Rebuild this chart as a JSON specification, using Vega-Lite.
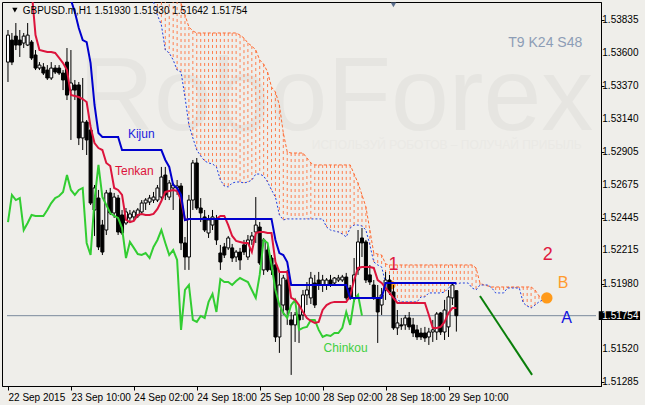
{
"$schema": "https://vega.github.io/schema/vega-lite/v6.json",
"width": 599, "height": 384,
"autosize": {"type": "none"},
"padding": {"left": 2, "top": 2, "right": 44, "bottom": 19},
"background": "#efeeea",
"config": {"view": {"stroke": "black", "strokeWidth": 1}, "font": "Liberation Sans", "axis": {"labelOverlap": false}},
"datasets": {"bars": [
{"i":0,"o":1.53539,"h":1.53765,"l":1.53399,"c":1.53729,"ch":1.52413},
{"i":1,"o":1.53694,"h":1.53744,"l":1.53518,"c":1.53539,"ch":1.52604},
{"i":2,"o":1.53722,"h":1.53814,"l":1.53624,"c":1.53659,"ch":1.52568},
{"i":3,"o":1.53694,"h":1.53765,"l":1.53575,"c":1.53659,"ch":1.52582},
{"i":4,"o":1.53673,"h":1.53744,"l":1.53638,"c":1.53722,"ch":1.52357},
{"i":5,"o":1.53659,"h":1.53814,"l":1.53652,"c":1.53729,"ch":1.52406},
{"i":6,"o":1.53680,"h":1.53694,"l":1.53554,"c":1.53568,"ch":1.52463,"t":1.54046},
{"i":7,"o":1.53589,"h":1.53624,"l":1.53483,"c":1.53497,"ch":1.52456,"t":1.53729},
{"i":8,"o":1.53497,"h":1.53539,"l":1.53483,"c":1.53518,"ch":1.52456,"t":1.53624},
{"i":9,"o":1.53504,"h":1.53532,"l":1.53448,"c":1.53462,"ch":1.52456,"t":1.53617},
{"i":10,"o":1.53483,"h":1.53518,"l":1.53413,"c":1.53427,"ch":1.52498,"t":1.53610},
{"i":11,"o":1.53427,"h":1.53539,"l":1.53413,"c":1.53497,"ch":1.52547,"t":1.53610},
{"i":12,"o":1.53497,"h":1.53518,"l":1.53455,"c":1.53469,"ch":1.52582,"t":1.53603},
{"i":13,"o":1.53497,"h":1.53518,"l":1.53448,"c":1.53462,"ch":1.52596,"t":1.53568},
{"i":14,"o":1.53462,"h":1.53483,"l":1.53342,"c":1.53413,"ch":1.52625,"t":1.53532},
{"i":15,"o":1.53539,"h":1.53638,"l":1.53272,"c":1.53307,"ch":1.52744,"t":1.53483,"k":1.54081},
{"i":16,"o":1.53342,"h":1.53624,"l":1.52991,"c":1.53392,"ch":1.52639,"t":1.53307,"k":1.53976},
{"i":17,"o":1.53378,"h":1.53413,"l":1.53272,"c":1.53342,"ch":1.52604,"t":1.53300,"k":1.53891},
{"i":18,"o":1.53378,"h":1.53399,"l":1.52955,"c":1.53005,"ch":1.52639,"t":1.53293,"k":1.53779},
{"i":19,"o":1.53005,"h":1.53427,"l":1.52920,"c":1.53117,"ch":1.52653,"t":1.53279,"k":1.53694},
{"i":20,"o":1.53117,"h":1.53131,"l":1.52885,"c":1.52991,"ch":1.52266,"t":1.53258,"k":1.53680},
{"i":21,"o":1.53061,"h":1.53096,"l":1.52533,"c":1.52547,"ch":1.52181,"t":1.53082,"k":1.53532},
{"i":22,"o":1.52498,"h":1.52674,"l":1.52315,"c":1.52653,"ch":1.52568,"t":1.52969,"k":1.53237},
{"i":23,"o":1.52582,"h":1.52639,"l":1.52216,"c":1.52238,"ch":1.52815,"t":1.52934,"k":1.53040},
{"i":24,"o":1.52392,"h":1.52428,"l":1.52181,"c":1.52202,"ch":1.52589,"t":1.52920,"k":1.53012},
{"i":25,"o":1.52357,"h":1.52639,"l":1.52322,"c":1.52618,"ch":1.52533,"t":1.52829,"k":1.53012},
{"i":26,"o":1.52618,"h":1.52653,"l":1.52463,"c":1.52477,"ch":1.52477,"t":1.52808,"k":1.53012},
{"i":27,"o":1.52477,"h":1.52618,"l":1.52442,"c":1.52589,"ch":1.52456,"t":1.52653,"k":1.53012},
{"i":28,"o":1.52582,"h":1.52604,"l":1.52322,"c":1.52343,"ch":1.52442,"t":1.52639,"k":1.53012},
{"i":29,"o":1.52463,"h":1.52498,"l":1.52322,"c":1.52336,"ch":1.52371,"t":1.52604,"k":1.52920},
{"i":30,"o":1.52406,"h":1.52512,"l":1.52392,"c":1.52484,"ch":1.52160,"t":1.52428,"k":1.52920},
{"i":31,"o":1.52442,"h":1.52498,"l":1.52413,"c":1.52470,"ch":1.52273,"t":1.52413,"k":1.52920},
{"i":32,"o":1.52449,"h":1.52498,"l":1.52428,"c":1.52484,"ch":1.52231,"t":1.52421,"k":1.52920},
{"i":33,"o":1.52456,"h":1.52512,"l":1.52442,"c":1.52498,"ch":1.52188,"t":1.52463,"k":1.52920},
{"i":34,"o":1.52484,"h":1.52568,"l":1.52463,"c":1.52547,"ch":1.52181,"t":1.52470,"k":1.52920},
{"i":35,"o":1.52547,"h":1.52582,"l":1.52498,"c":1.52568,"ch":1.52195,"t":1.52463,"k":1.52920},
{"i":36,"o":1.52554,"h":1.52604,"l":1.52533,"c":1.52582,"ch":1.52160,"t":1.52463,"k":1.52920},
{"i":37,"o":1.52568,"h":1.52625,"l":1.52547,"c":1.52589,"ch":1.52238,"t":1.52470,"k":1.52920,"a":1.54398,"b":1.53962},
{"i":38,"o":1.52568,"h":1.52674,"l":1.52554,"c":1.52653,"ch":1.52287,"t":1.52505,"k":1.52920,"a":1.54328,"b":1.53870},
{"i":39,"o":1.52589,"h":1.52801,"l":1.52568,"c":1.52730,"ch":1.52357,"t":1.52561,"k":1.52920,"a":1.54257,"b":1.53800},
{"i":40,"o":1.52744,"h":1.52801,"l":1.52568,"c":1.52604,"ch":1.52266,"t":1.52625,"k":1.52850,"a":1.54187,"b":1.53624},
{"i":41,"o":1.52589,"h":1.52709,"l":1.52568,"c":1.52688,"ch":1.52181,"t":1.52632,"k":1.52801,"a":1.54116,"b":1.53603},
{"i":42,"o":1.52653,"h":1.52688,"l":1.52498,"c":1.52674,"ch":1.52216,"t":1.52639,"k":1.52674,"a":1.54060,"b":1.53554},
{"i":43,"o":1.52653,"h":1.52709,"l":1.52604,"c":1.52667,"ch":1.52146,"t":1.52632,"k":1.52653,"a":1.54011,"b":1.53483},
{"i":44,"o":1.52667,"h":1.52688,"l":1.52216,"c":1.52266,"ch":1.51654,"t":1.52568,"k":1.52604,"a":1.53955,"b":1.53469},
{"i":45,"o":1.52266,"h":1.52308,"l":1.52076,"c":1.52167,"ch":1.51935,"t":1.52428,"k":1.52428,"a":1.53870,"b":1.53293},
{"i":46,"o":1.52167,"h":1.52604,"l":1.52076,"c":1.52568,"ch":1.51970,"t":1.52435,"k":1.52435,"a":1.53786,"b":1.53096},
{"i":47,"o":1.52568,"h":1.52850,"l":1.52498,"c":1.52829,"ch":1.51724,"t":1.52435,"k":1.52435,"a":1.53758,"b":1.53005},
{"i":48,"o":1.52829,"h":1.52864,"l":1.52498,"c":1.52512,"ch":1.51710,"t":1.52435,"k":1.52435,"a":1.53744,"b":1.52920},
{"i":49,"o":1.52512,"h":1.52582,"l":1.52413,"c":1.52477,"ch":1.51752,"t":1.52435,"k":1.52435,"a":1.53744,"b":1.52878},
{"i":50,"o":1.52449,"h":1.52498,"l":1.52343,"c":1.52357,"ch":1.51738,"t":1.52435,"k":1.52435,"a":1.53744,"b":1.52843},
{"i":51,"o":1.52336,"h":1.52463,"l":1.52301,"c":1.52428,"ch":1.51851,"t":1.52435,"k":1.52435,"a":1.53744,"b":1.52829},
{"i":52,"o":1.52392,"h":1.52498,"l":1.52357,"c":1.52449,"ch":1.51907,"t":1.52435,"k":1.52435,"a":1.53744,"b":1.52822},
{"i":53,"o":1.52428,"h":1.52463,"l":1.52252,"c":1.52287,"ch":1.51780,"t":1.52435,"k":1.52435,"a":1.53744,"b":1.52801},
{"i":54,"o":1.52195,"h":1.52252,"l":1.52076,"c":1.52132,"ch":1.52012,"t":1.52456,"k":1.52435,"a":1.53744,"b":1.52709},
{"i":55,"o":1.52238,"h":1.52266,"l":1.52160,"c":1.52181,"ch":1.51991,"t":1.52456,"k":1.52435,"a":1.53744,"b":1.52667},
{"i":56,"o":1.52231,"h":1.52315,"l":1.52216,"c":1.52301,"ch":1.51991,"t":1.52392,"k":1.52435,"a":1.53744,"b":1.52660},
{"i":57,"o":1.52231,"h":1.52259,"l":1.52132,"c":1.52160,"ch":1.51970,"t":1.52315,"k":1.52435,"a":1.53744,"b":1.52688},
{"i":58,"o":1.52167,"h":1.52216,"l":1.52132,"c":1.52202,"ch":1.51998,"t":1.52280,"k":1.52435,"a":1.53744,"b":1.52695},
{"i":59,"o":1.52202,"h":1.52231,"l":1.52076,"c":1.52146,"ch":1.52019,"t":1.52273,"k":1.52435,"a":1.53729,"b":1.52695},
{"i":60,"o":1.52252,"h":1.52287,"l":1.52181,"c":1.52202,"ch":1.52005,"t":1.52266,"k":1.52435,"a":1.53708,"b":1.52688},
{"i":61,"o":1.52167,"h":1.52322,"l":1.52146,"c":1.52287,"ch":1.51991,"t":1.52266,"k":1.52435,"a":1.53673,"b":1.52695},
{"i":62,"o":1.52287,"h":1.52343,"l":1.52252,"c":1.52315,"ch":1.51935,"t":1.52202,"k":1.52435,"a":1.53652,"b":1.52709},
{"i":63,"o":1.52343,"h":1.52589,"l":1.52266,"c":1.52392,"ch":1.51879,"t":1.52336,"k":1.52435,"a":1.53624,"b":1.52751},
{"i":64,"o":1.52378,"h":1.52413,"l":1.52111,"c":1.52125,"ch":1.52041,"t":1.52343,"k":1.52435,"a":1.53554,"b":1.52751},
{"i":65,"o":1.52076,"h":1.52301,"l":1.52041,"c":1.52287,"ch":1.52287,"t":1.52343,"k":1.52435,"a":1.53525,"b":1.52737},
{"i":66,"o":1.52216,"h":1.52252,"l":1.52062,"c":1.52076,"ch":1.52266,"t":1.52336,"k":1.52435,"a":1.53469,"b":1.52695},
{"i":67,"o":1.52160,"h":1.52181,"l":1.52041,"c":1.52076,"ch":1.52111,"t":1.52336,"k":1.52435,"a":1.53363,"b":1.52639},
{"i":68,"o":1.52111,"h":1.52160,"l":1.51569,"c":1.51604,"ch":1.51935,"t":1.52132,"k":1.52287,"a":1.53328,"b":1.52589},
{"i":69,"o":1.51604,"h":1.52062,"l":1.51492,"c":1.51970,"ch":1.51829,"t":1.52062,"k":1.52195,"a":1.53237,"b":1.52463},
{"i":70,"o":1.51829,"h":1.52041,"l":1.51759,"c":1.52019,"ch":1.51773,"t":1.52062,"k":1.52181,"a":1.53040,"b":1.52428},
{"i":71,"o":1.52005,"h":1.52076,"l":1.51689,"c":1.51794,"ch":1.51738,"t":1.52062,"k":1.52132,"a":1.52906,"b":1.52435},
{"i":72,"o":1.51724,"h":1.51780,"l":1.51337,"c":1.51689,"ch":1.51829,"t":1.51879,"k":1.51970,"a":1.52899,"b":1.52435},
{"i":73,"o":1.51689,"h":1.51780,"l":1.51569,"c":1.51759,"ch":1.51865,"t":1.51865,"k":1.51970,"a":1.52899,"b":1.52435},
{"i":74,"o":1.51759,"h":1.51829,"l":1.51562,"c":1.51724,"ch":1.51654,"t":1.51829,"k":1.51970,"a":1.52899,"b":1.52435},
{"i":75,"o":1.51759,"h":1.51935,"l":1.51724,"c":1.51900,"ch":1.51668,"t":1.51780,"k":1.51970,"a":1.52899,"b":1.52435},
{"i":76,"o":1.51900,"h":1.51991,"l":1.51829,"c":1.51935,"ch":1.51675,"t":1.51738,"k":1.51970,"a":1.52864,"b":1.52435},
{"i":77,"o":1.51879,"h":1.52062,"l":1.51836,"c":1.52019,"ch":1.51724,"t":1.51717,"k":1.51970,"a":1.52829,"b":1.52435},
{"i":78,"o":1.51984,"h":1.52041,"l":1.51808,"c":1.51829,"ch":1.51724,"t":1.51703,"k":1.51970,"a":1.52815,"b":1.52435},
{"i":79,"o":1.52005,"h":1.52062,"l":1.51935,"c":1.51970,"ch":1.51654,"t":1.51710,"k":1.51970,"a":1.52815,"b":1.52435},
{"i":80,"o":1.51970,"h":1.52041,"l":1.51921,"c":1.52005,"ch":1.51604,"t":1.51794,"k":1.51970,"a":1.52815,"b":1.52435},
{"i":81,"o":1.51970,"h":1.52019,"l":1.51935,"c":1.52005,"ch":1.51618,"t":1.51829,"k":1.51970,"a":1.52815,"b":1.52378},
{"i":82,"o":1.52005,"h":1.52041,"l":1.51956,"c":1.51970,"ch":1.51611,"t":1.51844,"k":1.51970,"a":1.52815,"b":1.52357},
{"i":83,"o":1.51984,"h":1.52026,"l":1.51970,"c":1.52019,"ch":1.51632,"t":1.51851,"k":1.51970,"a":1.52815,"b":1.52350},
{"i":84,"o":1.52005,"h":1.52041,"l":1.51991,"c":1.52019,"ch":1.51632,"t":1.51851,"k":1.51970,"a":1.52815,"b":1.52343},
{"i":85,"o":1.52005,"h":1.52041,"l":1.51991,"c":1.52026,"ch":1.51668,"t":1.51851,"k":1.51970,"a":1.52815,"b":1.52329},
{"i":86,"o":1.52026,"h":1.52055,"l":1.51865,"c":1.51879,"ch":1.51780,"t":1.51851,"k":1.51970,"a":1.52815,"b":1.52308},
{"i":87,"o":1.51949,"h":1.51970,"l":1.51865,"c":1.51879,"ch":1.51689,"t":1.51893,"k":1.51879,"a":1.52815,"b":1.52371},
{"i":88,"o":1.51879,"h":1.52160,"l":1.51851,"c":1.52041,"ch":1.51865,"t":1.52005,"k":1.51879,"a":1.52751,"b":1.52392},
{"i":89,"o":1.52076,"h":1.52357,"l":1.52041,"c":1.52273,"ch":1.51900,"t":1.52090,"k":1.51879,"a":1.52688,"b":1.52392},
{"i":90,"o":1.52301,"h":1.52371,"l":1.52167,"c":1.52266,"ch":1.51754,"t":1.52097,"k":1.51879,"a":1.52604,"b":1.52385},
{"i":91,"o":1.52273,"h":1.52287,"l":1.51984,"c":1.52005,"t":1.52097,"k":1.51879,"a":1.52519,"b":1.52357},
{"i":92,"o":1.52041,"h":1.52111,"l":1.51970,"c":1.51991,"t":1.52097,"k":1.51879,"a":1.52357,"b":1.52252},
{"i":93,"o":1.51970,"h":1.52005,"l":1.51865,"c":1.51879,"t":1.52090,"k":1.51879,"a":1.52195,"b":1.52132},
{"i":94,"o":1.51879,"h":1.51970,"l":1.51562,"c":1.51780,"t":1.52005,"k":1.51879,"a":1.52188,"b":1.52111},
{"i":95,"o":1.51829,"h":1.51949,"l":1.51759,"c":1.51900,"t":1.51984,"k":1.51879,"a":1.52181,"b":1.52097},
{"i":96,"o":1.51935,"h":1.52062,"l":1.51865,"c":1.52005,"t":1.51949,"k":1.51984,"a":1.52118,"b":1.51984},
{"i":97,"o":1.52005,"h":1.52041,"l":1.51900,"c":1.51921,"t":1.51914,"k":1.51984,"a":1.52111,"b":1.51914},
{"i":98,"o":1.51921,"h":1.51970,"l":1.51654,"c":1.51668,"t":1.51879,"k":1.51984,"a":1.52111,"b":1.51886},
{"i":99,"o":1.51668,"h":1.51794,"l":1.51618,"c":1.51703,"t":1.51844,"k":1.51984,"a":1.52111,"b":1.51865},
{"i":100,"o":1.51689,"h":1.51738,"l":1.51654,"c":1.51682,"t":1.51844,"k":1.51984,"a":1.52111,"b":1.51851},
{"i":101,"o":1.51689,"h":1.51759,"l":1.51654,"c":1.51738,"t":1.51844,"k":1.51984,"a":1.52111,"b":1.51851},
{"i":102,"o":1.51738,"h":1.51780,"l":1.51654,"c":1.51675,"t":1.51844,"k":1.51984,"a":1.52111,"b":1.51851},
{"i":103,"o":1.51689,"h":1.51738,"l":1.51604,"c":1.51632,"t":1.51844,"k":1.51984,"a":1.52111,"b":1.51851},
{"i":104,"o":1.51654,"h":1.51689,"l":1.51583,"c":1.51604,"t":1.51844,"k":1.51984,"a":1.52111,"b":1.51851},
{"i":105,"o":1.51632,"h":1.51668,"l":1.51583,"c":1.51604,"t":1.51844,"k":1.51984,"a":1.52111,"b":1.51886},
{"i":106,"o":1.51632,"h":1.51675,"l":1.51569,"c":1.51597,"t":1.51844,"k":1.51984,"a":1.52111,"b":1.51886},
{"i":107,"o":1.51604,"h":1.51668,"l":1.51548,"c":1.51639,"t":1.51759,"k":1.51984,"a":1.52111,"b":1.51914},
{"i":108,"o":1.51639,"h":1.51724,"l":1.51569,"c":1.51654,"t":1.51668,"k":1.51984,"a":1.52111,"b":1.51914},
{"i":109,"o":1.51639,"h":1.51780,"l":1.51583,"c":1.51766,"t":1.51668,"k":1.51984,"a":1.52111,"b":1.51914},
{"i":110,"o":1.51773,"h":1.51780,"l":1.51618,"c":1.51639,"t":1.51675,"k":1.51984,"a":1.52111,"b":1.51914},
{"i":111,"o":1.51639,"h":1.51865,"l":1.51583,"c":1.51794,"t":1.51710,"k":1.51984,"a":1.52111,"b":1.51921},
{"i":112,"o":1.51675,"h":1.51935,"l":1.51604,"c":1.51886,"t":1.51773,"k":1.51984,"a":1.52111,"b":1.51949},
{"i":113,"o":1.51879,"h":1.51984,"l":1.51829,"c":1.51970,"t":1.51808,"k":1.51984,"a":1.52111,"b":1.51970},
{"i":114,"o":1.51930,"h":1.51930,"l":1.51642,"c":1.51754,"t":1.51808,"k":1.51984,"a":1.52111,"b":1.51977},
{"i":115,"a":1.52111,"b":1.51984},
{"i":116,"a":1.52111,"b":1.51984},
{"i":117,"a":1.52111,"b":1.51984},
{"i":118,"a":1.52111,"b":1.51949},
{"i":119,"a":1.52090,"b":1.51935},
{"i":120,"a":1.51984,"b":1.51970},
{"i":121,"a":1.51970,"b":1.51970},
{"i":122,"a":1.51963,"b":1.51970},
{"i":123,"a":1.51956,"b":1.51949},
{"i":124,"a":1.51956,"b":1.51914},
{"i":125,"a":1.51956,"b":1.51914},
{"i":126,"a":1.51956,"b":1.51914},
{"i":127,"a":1.51956,"b":1.51949},
{"i":128,"a":1.51956,"b":1.51949},
{"i":129,"a":1.51956,"b":1.51949},
{"i":130,"a":1.51956,"b":1.51949},
{"i":131,"a":1.51956,"b":1.51844},
{"i":132,"a":1.51956,"b":1.51822},
{"i":133,"a":1.51956,"b":1.51808},
{"i":134,"a":1.51935,"b":1.51829},
{"i":135,"a":1.51893,"b":1.51851},
{"i":136,"a":1.51879,"b":1.51865},
{"i":137,"a":1.51879,"b":1.51879}
]},
"encoding": {
  "x": {"field": "i", "type": "quantitative",
        "scale": {"domain": [-0.25, 149.5], "nice": false, "zero": false},
        "axis": {"values": [0, 16, 32, 48, 64, 80, 96, 112], "title": null, "grid": false,
                 "labelExpr": "['22 Sep 2015','23 Sep 10:00','24 Sep 02:00','24 Sep 18:00','25 Sep 10:00','28 Sep 02:00','28 Sep 18:00','29 Sep 10:00'][round(datum.value/16)]",
                 "labelAlign": "left", "labelFont": "Liberation Sans", "labelFontSize": 10, "labelColor": "black",
                 "labelPadding": 2, "tickSize": 4, "tickColor": "black", "domainColor": "black",
                 "labelFlush": false, "labelOverlap": false}}
},
"layer": [
  {"data": {"values": [{"i": 18, "p": 1.53061, "s": "RoboForex"}]},
   "mark": {"type": "text", "align": "left", "baseline": "alphabetic", "fontSize": 104, "color": "#e6e5e1", "font": "Liberation Sans"},
   "encoding": {"y": {"field": "p", "type": "quantitative", "title": null, "scale": {"domain": [1.51259, 1.53962], "nice": false, "zero": false},
                      "axis": {"orient": "right", "values": [1.53835, 1.536, 1.5337, 1.5314, 1.52905, 1.52675, 1.52445, 1.52215, 1.5198, 1.5152, 1.51285],
                               "labels": false, "title": null, "grid": false, "domainColor": "black", "tickColor": "black", "tickSize": 3}},
                "text": {"field": "s"}}},
  {"data": {"values": [{"i": 77.25, "p": 1.52955, "s": "ИСПОЛЬЗУЙ РОБОТОВ – ПОЛУЧАЙ ПРИБЫЛЬ"}]},
   "mark": {"type": "text", "align": "left", "baseline": "middle", "fontSize": 12, "color": "#eae9e5"},
   "encoding": {"y": {"field": "p", "type": "quantitative", "title": null}, "text": {"field": "s"}}},
  {"data": {"name": "bars"},
   "mark": {"type": "rule", "color": "#ff7f4f", "strokeWidth": 1, "strokeDash": [3, 3], "clip": true},
   "encoding": {"y": {"field": "a", "type": "quantitative", "title": null}, "y2": {"field": "b"}}},
  {"data": {"name": "bars"},
   "mark": {"type": "line", "color": "#ff6a30", "strokeWidth": 1, "strokeDash": [3, 2], "clip": true},
   "encoding": {"y": {"field": "a", "type": "quantitative", "title": null}}},
  {"data": {"name": "bars"},
   "mark": {"type": "line", "color": "#1f3fe0", "strokeWidth": 1, "strokeDash": [2, 2], "clip": true},
   "encoding": {"y": {"field": "b", "type": "quantitative", "title": null}}},
  {"data": {"values": [{"i": -0.25}, {"i": 149.5}]},
   "mark": {"type": "line", "color": "#7b8a9c", "strokeWidth": 1},
   "encoding": {"y": {"datum": 1.51754, "type": "quantitative", "title": null}}},
  {"data": {"values": [{"i": 97.5, "p": 1.5197}]},
   "mark": {"type": "point", "filled": true, "color": "#ff9a1a", "size": 70, "opacity": 1},
   "encoding": {"y": {"field": "p", "type": "quantitative", "title": null}}},
  {"data": {"name": "bars"},
   "mark": {"type": "rule", "color": "black", "strokeWidth": 1},
   "encoding": {"y": {"field": "h", "type": "quantitative", "title": null}, "y2": {"field": "l"}}},
  {"data": {"name": "bars"},
   "mark": {"type": "bar", "width": 3, "stroke": "black", "strokeWidth": 1},
   "encoding": {"y": {"field": "o", "type": "quantitative", "title": null}, "y2": {"field": "c"},
                "fill": {"condition": {"test": "datum.c >= datum.o", "value": "white"}, "value": "black"}}},
  {"data": {"name": "bars"},
   "mark": {"type": "line", "color": "#32cd32", "strokeWidth": 2, "clip": true},
   "encoding": {"y": {"field": "ch", "type": "quantitative", "title": null}}},
  {"data": {"name": "bars"},
   "mark": {"type": "line", "color": "#dc143c", "strokeWidth": 2, "clip": true},
   "encoding": {"y": {"field": "t", "type": "quantitative", "title": null}}},
  {"data": {"name": "bars"},
   "mark": {"type": "line", "color": "#0000cd", "strokeWidth": 2, "clip": true},
   "encoding": {"y": {"field": "k", "type": "quantitative", "title": null}}},
  {"data": {"values": [{"i": 120, "p": 1.51893}, {"i": 133.25, "p": 1.51337}]},
   "mark": {"type": "line", "color": "#0a7f0a", "strokeWidth": 2},
   "encoding": {"y": {"field": "p", "type": "quantitative", "title": null}}},
  {"data": {"values": [{"i": 137, "p": 1.51879}]},
   "mark": {"type": "point", "filled": true, "color": "#ff9a1a", "size": 130, "opacity": 1},
   "encoding": {"y": {"field": "p", "type": "quantitative", "title": null}}},
  {"data": {"values": [{"i": 1.75, "p": 1.53905}]},
   "mark": {"type": "point", "shape": "triangle-down", "filled": true, "color": "black", "size": 28, "opacity": 1},
   "encoding": {"y": {"field": "p", "type": "quantitative", "title": null}}},
  {"data": {"values": [{"i": 98, "p": 1.53941}]},
   "mark": {"type": "point", "shape": "triangle-down", "filled": true, "color": "#5b6f8e", "size": 30, "opacity": 1},
   "encoding": {"y": {"field": "p", "type": "quantitative", "title": null}}},
  {"data": {"values": [{"i": 3.75, "p": 1.53898, "s": "GBPUSD.m,H1  1.51930 1.51930 1.51642 1.51754"}]},
   "mark": {"type": "text", "align": "left", "baseline": "middle", "fontSize": 10, "color": "black"},
   "encoding": {"y": {"field": "p", "type": "quantitative", "title": null}, "text": {"field": "s"}}},
  {"data": {"values": [{"i": 146, "p": 1.53673, "s": "T9 K24 S48"}]},
   "mark": {"type": "text", "align": "right", "baseline": "middle", "fontSize": 14, "color": "#8d9db6"},
   "encoding": {"y": {"field": "p", "type": "quantitative", "title": null}, "text": {"field": "s"}}},
  {"data": {"values": [{"i": 30.5, "p": 1.53033, "s": "Kijun"}]},
   "mark": {"type": "text", "align": "left", "baseline": "middle", "fontSize": 12, "color": "#2222dd"},
   "encoding": {"y": {"field": "p", "type": "quantitative", "title": null}, "text": {"field": "s"}}},
  {"data": {"values": [{"i": 27.2, "p": 1.52772, "s": "Tenkan"}]},
   "mark": {"type": "text", "align": "left", "baseline": "middle", "fontSize": 12, "color": "#dc143c"},
   "encoding": {"y": {"field": "p", "type": "quantitative", "title": null}, "text": {"field": "s"}}},
  {"data": {"values": [{"i": 80.25, "p": 1.51527, "s": "Chinkou"}]},
   "mark": {"type": "text", "align": "left", "baseline": "middle", "fontSize": 12, "color": "#3fcf3f"},
   "encoding": {"y": {"field": "p", "type": "quantitative", "title": null}, "text": {"field": "s"}}},
  {"data": {"values": [{"i": 98, "p": 1.52111, "s": "1"}, {"i": 137.25, "p": 1.52181, "s": "2"}]},
   "mark": {"type": "text", "align": "center", "baseline": "middle", "fontSize": 18, "color": "#e0193f"},
   "encoding": {"y": {"field": "p", "type": "quantitative", "title": null}, "text": {"field": "s"}}},
  {"data": {"values": [{"i": 141.1, "p": 1.51984, "s": "B"}]},
   "mark": {"type": "text", "align": "center", "baseline": "middle", "fontSize": 16, "color": "#ff9a2e"},
   "encoding": {"y": {"field": "p", "type": "quantitative", "title": null}, "text": {"field": "s"}}},
  {"data": {"values": [{"i": 142, "p": 1.51738, "s": "A"}]},
   "mark": {"type": "text", "align": "center", "baseline": "middle", "fontSize": 16, "color": "#1414e0"},
   "encoding": {"y": {"field": "p", "type": "quantitative", "title": null}, "text": {"field": "s"}}},
  {"data": {"values": [{"i": 151.1, "p": 1.53835}, {"i": 151.1, "p": 1.536}, {"i": 151.1, "p": 1.5337}, {"i": 151.1, "p": 1.5314},
                       {"i": 151.1, "p": 1.52905}, {"i": 151.1, "p": 1.52675}, {"i": 151.1, "p": 1.52445}, {"i": 151.1, "p": 1.52215},
                       {"i": 151.1, "p": 1.5198}, {"i": 151.1, "p": 1.5152}, {"i": 151.1, "p": 1.51285}]},
   "mark": {"type": "text", "align": "left", "baseline": "middle", "fontSize": 10, "color": "black"},
   "encoding": {"y": {"field": "p", "type": "quantitative", "title": null}, "text": {"field": "p", "format": ".5f"}}},
  {"data": {"values": [{"i": 150.2}]},
   "mark": {"type": "rect", "color": "black"},
   "encoding": {"x2": {"datum": 160.7}, "y": {"datum": 1.51785, "type": "quantitative", "title": null}, "y2": {"datum": 1.51723}}},
  {"data": {"values": [{"i": 151.1, "p": 1.51754, "s": "1.51754"}]},
   "mark": {"type": "text", "align": "left", "baseline": "middle", "fontSize": 10, "color": "white"},
   "encoding": {"y": {"field": "p", "type": "quantitative", "title": null}, "text": {"field": "s"}}}
]
}
